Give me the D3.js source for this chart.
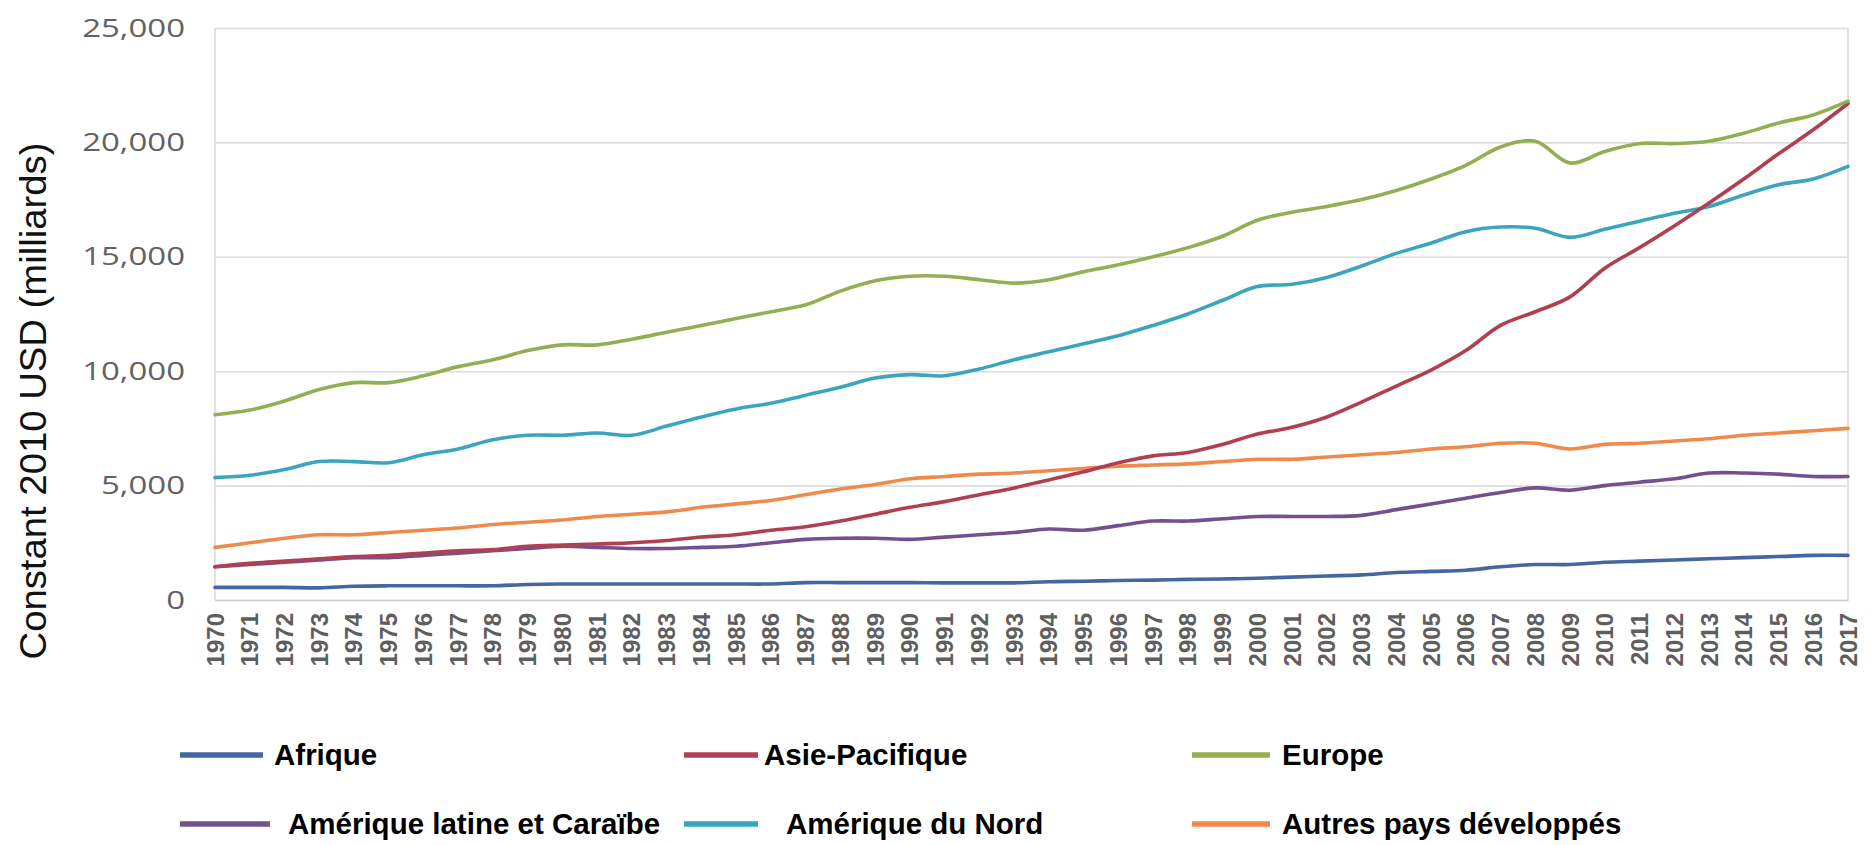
<!DOCTYPE html>
<html>
<head>
<meta charset="utf-8">
<script src="https://cdn.jsdelivr.net/npm/d3@7"></script>
<style>
  html, body { margin: 0; padding: 0; background: #ffffff; }
  svg { display: block; }
</style>
</head>
<body>
<svg id="chart" width="1873" height="845"></svg>
<script>
const years = d3.range(1970, 2018);
const yTicks = [0, 5000, 10000, 15000, 20000, 25000];
const yTitle = "Constant 2010 USD (milliards)";

const seriesNames = ["Afrique", "Asie-Pacifique", "Europe", "Amérique latine et Caraïbe", "Amérique du Nord", "Autres pays développés"];

const afrique = [550,550,550,530,600,620,620,620,620,680,700,700,700,700,700,700,700,760,760,760,760,750,750,750,800,820,850,870,900,920,950,1000,1050,1100,1200,1250,1300,1450,1550,1550,1650,1700,1750,1800,1850,1900,1950,1950];
const asiePacifique = [1450,1600,1700,1800,1900,1950,2050,2150,2200,2350,2400,2450,2500,2600,2750,2850,3050,3200,3450,3750,4050,4300,4600,4900,5250,5600,6000,6300,6450,6800,7250,7550,8000,8650,9350,10050,10900,12000,12600,13250,14500,15400,16350,17350,18400,19500,20550,21700];
const europe = [8100,8300,8700,9200,9500,9500,9800,10200,10500,10900,11150,11150,11400,11700,12000,12300,12600,12900,13500,13950,14150,14150,14000,13850,14000,14350,14650,15000,15400,15900,16600,16950,17200,17500,17900,18400,19000,19800,20050,19100,19600,19950,19950,20050,20400,20850,21200,21800];
const ameriqueLatine = [1450,1550,1650,1750,1850,1850,1950,2050,2150,2250,2350,2300,2250,2250,2300,2350,2500,2650,2700,2700,2650,2750,2850,2950,3100,3050,3250,3450,3450,3550,3650,3650,3650,3700,3950,4200,4450,4700,4900,4800,5000,5150,5300,5550,5550,5500,5400,5400];
const ameriqueNord = [5350,5450,5700,6050,6050,6000,6350,6600,7000,7200,7200,7300,7200,7600,8000,8350,8600,8950,9300,9700,9850,9800,10100,10500,10850,11200,11550,12000,12500,13100,13700,13800,14100,14600,15150,15600,16100,16300,16250,15850,16200,16550,16900,17200,17700,18150,18400,18950];
const autresPays = [2300,2500,2700,2850,2850,2950,3050,3150,3300,3400,3500,3650,3750,3850,4050,4200,4350,4600,4850,5050,5300,5400,5500,5550,5650,5750,5850,5900,5950,6050,6150,6150,6250,6350,6450,6600,6700,6850,6850,6600,6800,6850,6950,7050,7200,7300,7400,7500];

const seriesValues = [afrique, asiePacifique, europe, ameriqueLatine, ameriqueNord, autresPays];
const seriesColors = ["#45679f", "#b13f52", "#94ae52", "#75508f", "#3ba5bd", "#f08a4b"];
// draw order (back to front)
const drawOrder = [5, 3, 0, 4, 1, 2];

const svg = d3.select("#chart");
const plot = { left: 215, right: 1848, top: 28, bottom: 600 };

const x = d3.scalePoint().domain(years).range([plot.left, plot.right]);
const y = d3.scaleLinear().domain([0, 25000]).range([plot.bottom, plot.top]);

// gridlines
const yAxis = d3.axisLeft(y).tickValues(yTicks).tickSize(-(plot.right - plot.left)).tickPadding(30)
  .tickFormat(d3.format(","));
const gy = svg.append("g").attr("transform", `translate(${plot.left},0)`).call(yAxis);
gy.select(".domain").remove();
gy.selectAll(".tick line").attr("stroke", "#dcdcdc").attr("stroke-width", 1.6);
gy.selectAll(".tick text")
  .attr("fill", "#626262")
  .style("font-family", "'Open Sans', 'Liberation Sans', sans-serif")
  .style("font-size", "25px")
  .attr("text-anchor", "end")
  .each(function() {
    const t = d3.select(this);
    const xx = +t.attr("x");
    t.attr("x", null).attr("transform", `translate(${xx},0) scale(1.32,1)`);
  });

// plot borders left/right
svg.append("line").attr("x1", plot.left).attr("x2", plot.left).attr("y1", plot.top).attr("y2", plot.bottom)
  .attr("stroke", "#dcdcdc").attr("stroke-width", 1.6);
svg.append("line").attr("x1", plot.right).attr("x2", plot.right).attr("y1", plot.top).attr("y2", plot.bottom)
  .attr("stroke", "#dcdcdc").attr("stroke-width", 1.6);

// x axis
const xAxis = d3.axisBottom(x).tickSize(0).tickPadding(0);
const gx = svg.append("g").attr("transform", `translate(0,${plot.bottom})`).call(xAxis);
gx.select(".domain").attr("stroke", "#d0d0d0").attr("stroke-width", 1.6);
gx.selectAll(".tick text")
  .attr("fill", "#5e5e5e")
  .style("font-family", "'Liberation Sans', Arial, sans-serif")
  .style("font-size", "24px")
  .style("font-weight", "bold")
  .attr("text-anchor", "end")
  .attr("dy", null)
  .attr("y", 0)
  .attr("transform", "translate(8,13) rotate(-90)");

// y title
svg.append("text")
  .attr("transform", "translate(46,401) rotate(-90)")
  .attr("text-anchor", "middle")
  .attr("textLength", 517)
  .attr("lengthAdjust", "spacingAndGlyphs")
  .style("font-family", "'Liberation Sans', Arial, sans-serif")
  .style("font-size", "36px")
  .attr("fill", "#111")
  .text(yTitle);

// lines
const line = d3.line().x((d, i) => x(years[i])).y(d => y(d)).curve(d3.curveCatmullRom.alpha(0.5));
drawOrder.forEach(k => {
  svg.append("path")
    .datum(seriesValues[k])
    .attr("fill", "none")
    .attr("stroke", seriesColors[k])
    .attr("stroke-width", 3.6)
    .attr("stroke-linejoin", "round")
    .attr("stroke-linecap", "round")
    .attr("d", line);
});

// legend
const legendCols = [[180, 263, 274], [684, 758, 764], [1192, 1270, 1282]];
const legendRows = [755, 824];
const legendTextX2 = [288, 786, 1282];
seriesNames.forEach((name, i) => {
  const col = i % 3, row = Math.floor(i / 3);
  const yy = legendRows[row];
  const c = legendCols[col];
  svg.append("line").attr("x1", c[0]).attr("x2", row === 1 && col === 0 ? 270 : c[1]).attr("y1", yy).attr("y2", yy)
    .attr("stroke", seriesColors[i]).attr("stroke-width", 5.5);
  svg.append("text")
    .attr("x", row === 0 ? c[2] : legendTextX2[col])
    .attr("y", yy)
    .attr("dy", "0.35em")
    .style("font-family", "'Liberation Sans', Arial, sans-serif")
    .style("font-size", "29.5px")
    .style("font-weight", "bold")
    .attr("fill", "#000")
    .text(name);
});
</script>
</body>
</html>
